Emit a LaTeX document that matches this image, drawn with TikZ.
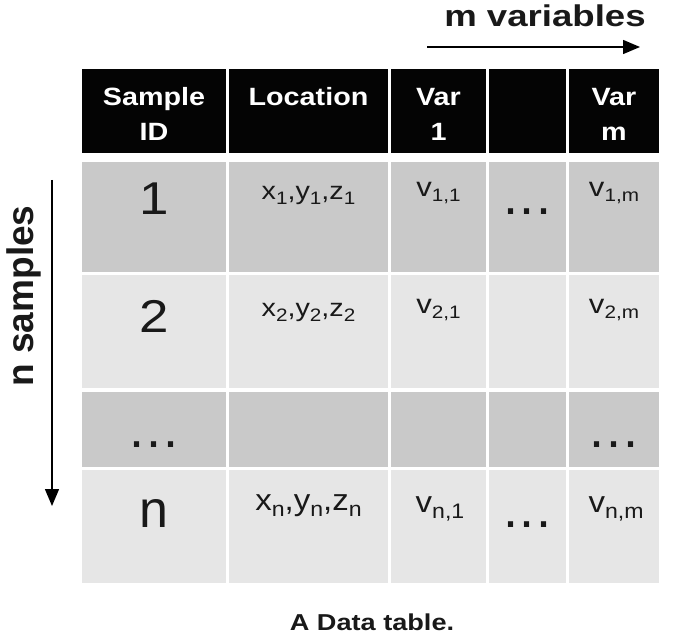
\documentclass[tikz,border=0pt]{standalone}
\usepackage{fontspec}
\setmainfont{Liberation Sans}
\usepackage{graphicx}
\usetikzlibrary{arrows.meta}
\newcommand{\fs}[1]{\fontsize{#1}{#1}\selectfont}
\newcommand{\hstr}[2][1.15]{\scalebox{#1}[1]{#2}}
\newcommand{\sbs}[1]{\raisebox{-5pt}{\fs{18}#1}}
\newcommand{\sbn}[1]{\raisebox{-6pt}{\fs{21}#1}}
\newcommand{\tdots}{.\kern1.6pt.\kern1.6pt.}
\definecolor{darkrow}{RGB}{201,201,201}
\definecolor{lightrow}{RGB}{230,230,230}
\definecolor{hdfill}{RGB}{4,4,4}
\definecolor{ink}{RGB}{25,25,25}
\begin{document}
\begin{tikzpicture}[x=1pt,y=-1pt,
  txt/.style={inner sep=0pt, anchor=base, text=ink},
  hd/.style={inner sep=0pt, anchor=base, text=white, font=\fs{25}\bfseries},
  big/.style={txt, font=\fs{46}},
  cellt/.style={txt, font=\fs{25}},
  celln/.style={txt, font=\fs{30}},
  dots/.style={txt, font=\fs{54}},
  arr/.style={line width=1.5pt, -{Triangle[length=17pt, width=14pt]}}]
\useasboundingbox[fill=white] (0,0) rectangle (690,644);
% cells
\foreach \a/\b in {82/226,229/388,391/486,489/566,569/659}{
  \fill[hdfill] (\a,69) rectangle (\b,153);
  \fill[darkrow] (\a,162) rectangle (\b,272);
  \fill[lightrow] (\a,275) rectangle (\b,388);
  \fill[darkrow] (\a,392) rectangle (\b,467);
  \fill[lightrow] (\a,470) rectangle (\b,583);
}
% header
\node[hd] (h1a) at (154,106) {\hstr{Sample}};
\node[hd] (h1b) at (154,141) {\hstr{ID}};
\node[hd] (h2) at (308.5,106) {\hstr{Location}};
\node[hd] (h3a) at (438.5,106) {\hstr{Var}};
\node[hd] (h3b) at (438.5,141) {\hstr{1}};
\node[hd] (h5a) at (614,106) {\hstr{Var}};
\node[hd] (h5b) at (614,141) {\hstr{m}};
% row 1
\node[big] (r1id) at (154,215) {\hstr{1}};
\node[cellt] (r1loc) at (308.5,200) {\hstr{x\sbs{1},y\sbs{1},z\sbs{1}}};
\node[cellt,font=\fs{27}] (r1v1) at (438.5,197) {\hstr{v\sbs{1,1}}};
\node[dots] (r1dots) at (527.5,215) {\tdots};
\node[cellt,font=\fs{27}] (r1vm) at (614,197) {\hstr{v\sbs{1,m}}};
% row 2
\node[big] (r2id) at (154,332) {\hstr{2}};
\node[cellt] (r2loc) at (308.5,316) {\hstr{x\sbs{2},y\sbs{2},z\sbs{2}}};
\node[cellt,font=\fs{27}] (r2v1) at (438.5,313) {\hstr{v\sbs{2,1}}};
\node[cellt,font=\fs{27}] (r2vm) at (614,313) {\hstr{v\sbs{2,m}}};
% row 3
\node[dots] (r3a) at (154,447) {\tdots};
\node[dots] (r3b) at (614,447) {\tdots};
% row n
\node[txt,font=\fs{52}] (rnid) at (154,527) {n};
\node[celln] (rnloc) at (308.5,510) {\hstr[1.1]{x\sbn{n},y\sbn{n},z\sbn{n}}};
\node[celln] (rnv1) at (440,512) {\hstr[1.1]{v\sbn{n,1}}};
\node[dots] (rndots) at (527.5,527) {\tdots};
\node[celln] (rnvm) at (616,512) {\hstr[1.1]{v\sbn{n,m}}};
% m variables
\node[txt, font=\fs{30}\bfseries] (mvar) at (545,27) {\hstr[1.22]{m variables}};
\coordinate (ms) at (427,47);
\coordinate (me) at (640,47);
\draw[arr] (ms) -- (me);
% n samples
\node[txt, font=\fs{37}\bfseries, rotate=90] (nsam) at (33,296) {n samples};
\coordinate (ns) at (52,180);
\coordinate (ne) at (52,506);
\draw[arr] (ns) -- (ne);
% caption
\node[txt, font=\fs{23}\bfseries] (cap) at (372,630) {\hstr[1.18]{A Data table.}};
\end{tikzpicture}
\end{document}
